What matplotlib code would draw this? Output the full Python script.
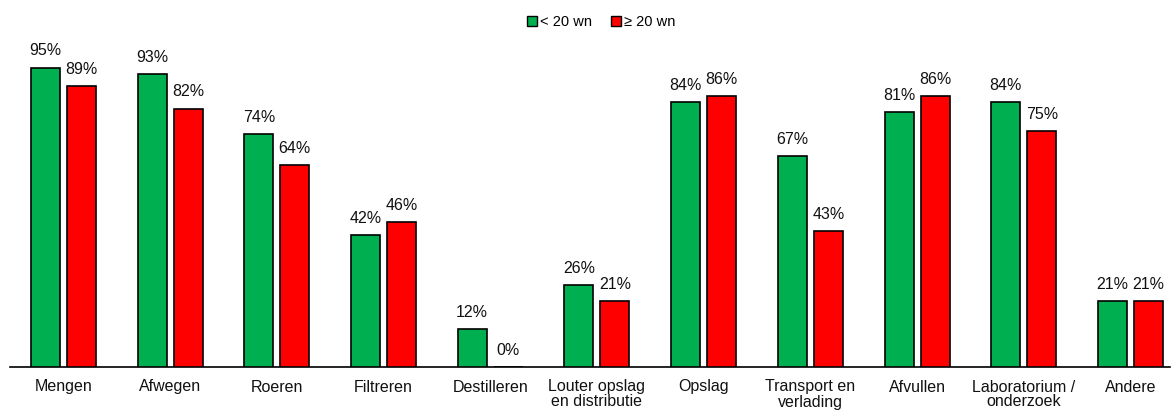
import matplotlib
matplotlib.use("Agg")
import matplotlib.pyplot as plt
import numpy as np
from matplotlib.lines import Line2D

categories = ["Mengen", "Afwegen", "Roeren", "Filtreren", "Destilleren",
              "Louter opslag\nen distributie", "Opslag", "Transport en\nverlading",
              "Afvullen", "Laboratorium /\nonderzoek", "Andere"]
small = [95, 93, 74, 42, 12, 26, 84, 67, 81, 84, 21]
large = [89, 82, 64, 46, 0, 21, 86, 43, 86, 75, 21]
series_names = ["< 20 wn", "≥ 20 wn"]
colors = ["#00B050", "#FF0000"]

plt.rcParams['font.family'] = ['Liberation Sans', 'DejaVu Sans']

W, H = 1171, 412
fig = plt.figure(figsize=(W / 100, H / 100), dpi=100)
left = 10 / W
bottom = (H - 367) / H
top = 36
ax = fig.add_axes([left, bottom, 1160 / W, (367 - top) / H])

x = np.arange(len(categories))
bw = 0.272
off = 0.169
for vals, sign, col in [(small, -1, colors[0]), (large, 1, colors[1])]:
    bars = ax.bar(x + sign * off, vals, width=bw, color=col, edgecolor="black", linewidth=1.2, zorder=3)
    for b, v in zip(bars, vals):
        ax.annotate(f"{v}%", (b.get_x() + b.get_width() / 2, v), xytext=(0, 6.5),
                    textcoords="offset points", ha="center", va="bottom", fontsize=11.5, color="#111111")

ax.set_xlim(-0.5, 10.37)
ax.set_ylim(0, 105)
ax.set_xticks(x)
ax.set_xticklabels(categories, fontsize=11.5, linespacing=1.0, color="#111111")
ax.tick_params(axis="x", length=0, pad=9)
ax.set_yticks([])
for s in ["top", "right", "left"]:
    ax.spines[s].set_visible(False)
ax.spines["bottom"].set_linewidth(1.2)

handles = [Line2D([], [], marker="s", linestyle="", markersize=7, markerfacecolor=c,
                  markeredgecolor="black", markeredgewidth=1) for c in colors]
fig.legend(handles, series_names, loc="center", bbox_to_anchor=(600 / W, 1 - 22 / H), ncol=2,
           frameon=False, fontsize=10.5, handletextpad=0.0, columnspacing=1.2, handlelength=1.0)

fig.savefig("out.png", dpi=100)
